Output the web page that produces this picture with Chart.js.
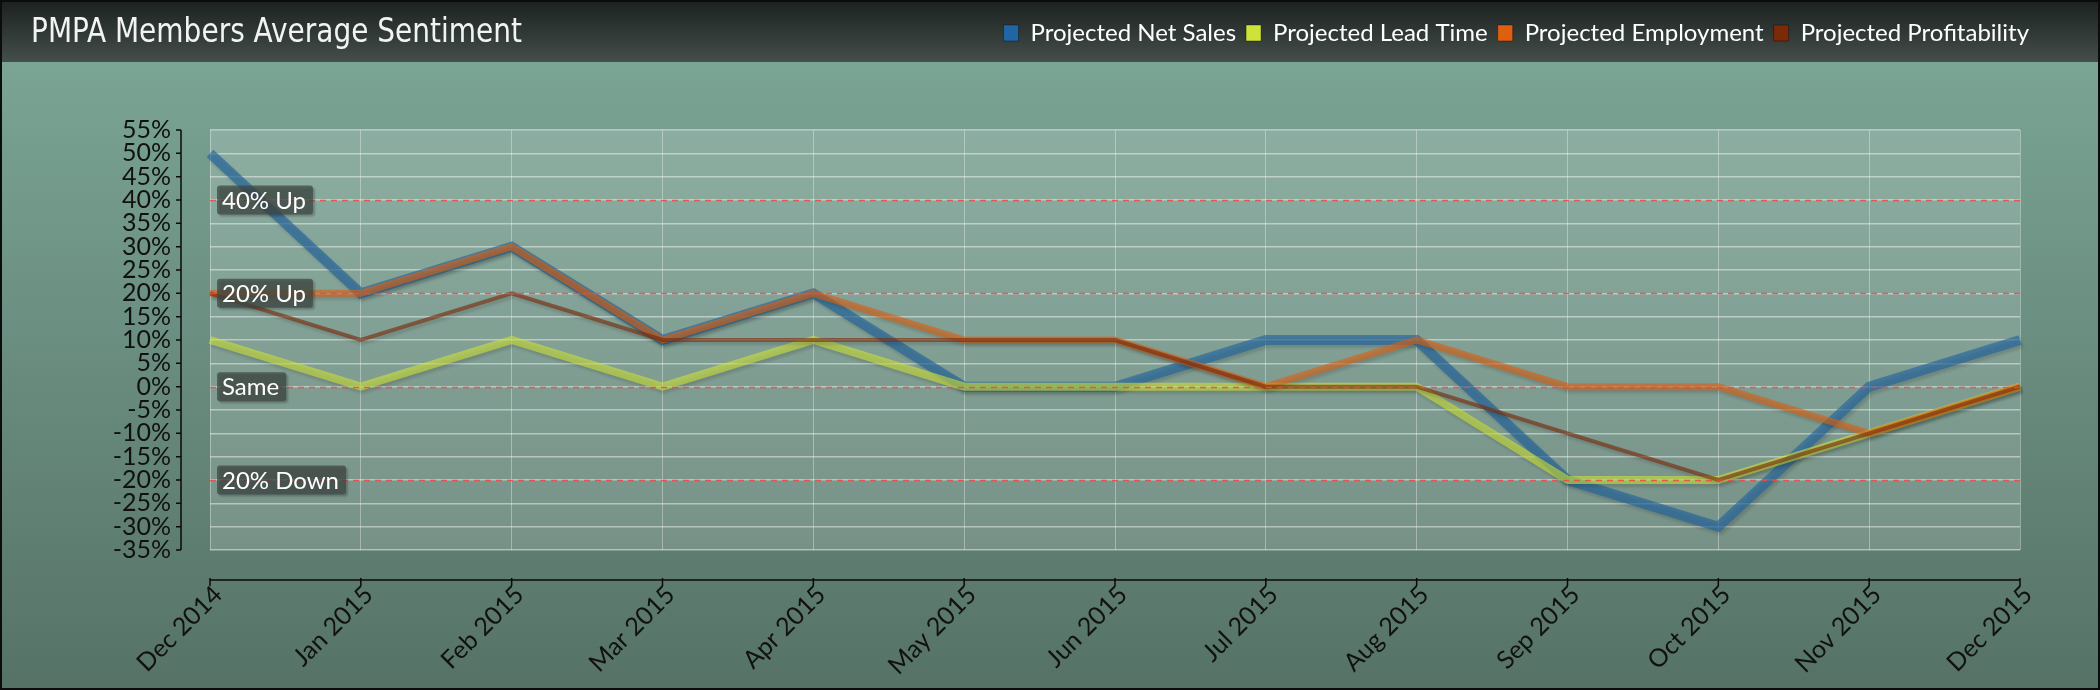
<!DOCTYPE html>
<html>
<head>
<meta charset="utf-8">
<script src="https://cdn.jsdelivr.net/npm/chart.js@4.4.1/dist/chart.umd.min.js"></script>
<style>
html,body{margin:0;padding:0;background:#000;}
#wrap{position:relative;width:2100px;height:690px;overflow:hidden;}
#title{position:absolute;left:31px;top:10px;font-family:"DejaVu Sans Condensed","DejaVu Sans",sans-serif;font-size:34px;line-height:40px;color:#f2f4f3;white-space:nowrap;transform-origin:0 0;}
canvas{display:block;}
</style>
</head>
<body>
<div id="wrap">
  <canvas id="c" width="2100" height="690"></canvas>
  <div id="title">PMPA Members Average Sentiment</div>
</div>
<script>
// ---- data ----
const categories = ['Dec 2014','Jan 2015','Feb 2015','Mar 2015','Apr 2015','May 2015','Jun 2015','Jul 2015','Aug 2015','Sep 2015','Oct 2015','Nov 2015','Dec 2015'];
const netSales      = [50, 20, 30, 10, 20, 0, 0, 10, 10, -20, -30, 0, 10];
const leadTime      = [10, 0, 10, 0, 10, 0, 0, 0, 0, -20, -20, -10, 0];
const employment    = [20, 20, 30, 10, 20, 10, 10, 0, 10, 0, 0, -10, 0];
const profitability = [20, 10, 20, 10, 10, 10, 10, 0, 0, -10, -20, -10, 0];
const seriesNames = ['Projected Net Sales','Projected Lead Time','Projected Employment','Projected Profitability'];
const yMin = -35, yMax = 55, yStep = 5;
const refLevels = [40, 20, 0, -20];
const refLabels = ['40% Up', '20% Up', 'Same', '20% Down'];

// ---- styles ----
const solidColors = ['#2166a3', '#cde33a', '#de5f0f', '#7b2908'];
const lineColors  = ['rgba(33,100,160,0.64)', 'rgba(205,227,58,0.6)', 'rgba(222,95,15,0.6)', 'rgba(123,41,8,0.62)'];
const lineWidths  = [10, 8, 7, 4];
const drawOrder   = [4, 3, 2, 1];

const LAYOUT_TOP = 11;
const PLOT_TOP = 130;

const bgPlugin = {
  id: 'bg',
  beforeDraw(chart) {
    const {ctx, width, height, chartArea: a} = chart;
    ctx.save();
    let g = ctx.createLinearGradient(0, 0, 0, 62);
    g.addColorStop(0, '#1b211f');
    g.addColorStop(1, '#444e4a');
    ctx.fillStyle = g;
    ctx.fillRect(0, 0, width, 62);
    g = ctx.createLinearGradient(0, 62, 0, height);
    g.addColorStop(0, '#7aa494');
    g.addColorStop(0.5, '#688b7e');
    g.addColorStop(1, '#567266');
    ctx.fillStyle = g;
    ctx.fillRect(0, 62, width, height - 62);
    ctx.fillStyle = 'rgba(255,255,255,0.16)';
    ctx.fillRect(a.left, a.top, a.right - a.left, a.bottom - a.top);
    ctx.restore();
  },
  beforeDatasetDraw(chart) {
    const ctx = chart.ctx;
    ctx.save();
    ctx.shadowColor = 'rgba(0,0,0,0.22)';
    ctx.shadowOffsetX = 2;
    ctx.shadowOffsetY = 3;
    ctx.shadowBlur = 3;
  },
  afterDatasetDraw(chart) {
    chart.ctx.restore();
  },
  afterDatasetsDraw(chart) {
    const {ctx, chartArea: a} = chart;
    const ys = chart.scales.y, xs = chart.scales.x;
    ctx.save();
    // dashed reference lines
    ctx.setLineDash([6, 5]);
    ctx.strokeStyle = 'rgba(236,70,70,0.85)';
    ctx.lineWidth = 1.5;
    refLevels.forEach(v => {
      const py = Math.round(ys.getPixelForValue(v)) + 0.5;
      ctx.beginPath();
      ctx.moveTo(a.left, py);
      ctx.lineTo(a.right, py);
      ctx.stroke();
    });
    ctx.setLineDash([]);
    // reference labels
    ctx.font = '24px Lato';
    ctx.textBaseline = 'middle';
    ctx.textAlign = 'left';
    refLevels.forEach((v, i) => {
      const py = ys.getPixelForValue(v);
      const tw = ctx.measureText(refLabels[i]).width;
      const bx = a.left + 7, bw = tw + 12, bh = 29, by = py - bh / 2;
      ctx.save();
      ctx.shadowColor = 'rgba(0,0,0,0.3)';
      ctx.shadowOffsetX = 2;
      ctx.shadowOffsetY = 2;
      ctx.shadowBlur = 2;
      ctx.fillStyle = 'rgba(62,70,66,0.72)';
      ctx.beginPath();
      ctx.roundRect(bx, by, bw, bh, 3);
      ctx.fill();
      ctx.restore();
      ctx.fillStyle = '#ffffff';
      ctx.fillText(refLabels[i], bx + 5, py + 1);
    });
    // offset axis lines
    ctx.strokeStyle = '#0a0a0a';
    ctx.lineWidth = 1.5;
    const axX = a.left - 29;
    const yTop = ys.getPixelForValue(yMax), yBot = ys.getPixelForValue(yMin);
    ctx.beginPath();
    ctx.moveTo(axX, yTop);
    ctx.lineTo(axX, yBot);
    ys.ticks.forEach(t => {
      const py = ys.getPixelForValue(t.value);
      ctx.moveTo(axX, py);
      ctx.lineTo(axX - 5, py);
    });
    ctx.stroke();
    const axY = a.bottom + 30;
    ctx.beginPath();
    ctx.moveTo(xs.getPixelForValue(0), axY);
    ctx.lineTo(xs.getPixelForValue(categories.length - 1), axY);
    categories.forEach((c, i) => {
      const px = xs.getPixelForValue(i);
      ctx.moveTo(px, axY - 2);
      ctx.lineTo(px, axY + 6);
    });
    ctx.stroke();
    ctx.restore();
  },
  afterDraw(chart) {
    const {ctx, width, height} = chart;
    ctx.save();
    ctx.strokeStyle = '#0c0c0c';
    ctx.lineWidth = 2;
    ctx.strokeRect(1, 1, width - 2, height - 2);
    ctx.restore();
  }
};

function build() {
  const t = document.getElementById('title');
  const w = t.getBoundingClientRect().width;
  t.style.transform = 'scaleX(' + (491 / w) + ')';

  Chart.defaults.font.family = 'Lato';
  const seriesData = [netSales, leadTime, employment, profitability];
  const datasets = seriesData.map((d, i) => ({
    label: seriesNames[i],
    data: d,
    borderColor: lineColors[i],
    backgroundColor: solidColors[i],
    borderWidth: lineWidths[i],
    borderJoinStyle: 'miter',
    pointRadius: 0,
    pointHoverRadius: 0,
    tension: 0,
    fill: false,
    order: drawOrder[i],
    xAxisID: 'x',
    yAxisID: 'y'
  }));

  new Chart(document.getElementById('c'), {
    type: 'line',
    data: { labels: categories, datasets },
    plugins: [bgPlugin],
    options: {
      responsive: false,
      animation: false,
      devicePixelRatio: 1,
      events: [],
      layout: { padding: { top: LAYOUT_TOP, right: 61, bottom: 0, left: 0 } },
      plugins: {
        title: { display: false },
        tooltip: { enabled: false },
        legend: {
          display: true,
          position: 'top',
          align: 'end',
          labels: {
            color: '#ffffff',
            font: { size: 24, family: 'Lato' },
            boxWidth: 15,
            boxHeight: 16,
            padding: 10,
            sort: (a, b) => a.datasetIndex - b.datasetIndex,
            generateLabels(chart) {
              const items = Chart.defaults.plugins.legend.labels.generateLabels(chart);
              return items.map(it => Object.assign(it, {
                fillStyle: solidColors[it.datasetIndex],
                strokeStyle: 'rgba(0,0,0,0.35)',
                lineWidth: 1,
                fontColor: '#ffffff'
              }));
            }
          }
        }
      },
      scales: {
        x: {
          type: 'category',
          position: 'bottom',
          offset: false,
          grid: { color: 'rgba(255,255,255,0.34)', lineWidth: 1, drawTicks: false },
          border: { display: false },
          ticks: { color: '#111111', font: { size: 25 }, padding: 30, labelOffset: 8, minRotation: 45, maxRotation: 45, autoSkip: false },
          afterFit(s) { s.height = 140; }
        },
        y: {
          type: 'linear',
          position: 'left',
          min: yMin,
          max: yMax,
          grid: { color: 'rgba(255,255,255,0.45)', lineWidth: 1.5, drawTicks: false },
          border: { display: false },
          ticks: { stepSize: yStep, autoSkip: false, color: '#111111', font: { size: 25 }, padding: 39, callback: v => v + '%' },
          afterFit(s) { s.width = 210; }
        },
        xTop: {
          type: 'linear',
          position: 'top',
          min: 0, max: 1,
          display: true,
          grid: { display: false },
          border: { display: false },
          ticks: { display: false },
          afterFit(s) {
            const lh = (s.chart.legend && s.chart.legend.height) || 45;
            s.height = Math.max(0, PLOT_TOP - LAYOUT_TOP - lh);
          }
        },
        yRight: {
          type: 'linear',
          position: 'right',
          min: 0, max: 1,
          display: true,
          grid: { display: false },
          border: { display: false },
          ticks: { display: false },
          afterFit(s) { s.width = 19; }
        }
      }
    }
  });
}

Promise.all([
  document.fonts.load('24px Lato'),
  document.fonts.load('34px "DejaVu Sans Condensed"')
]).catch(() => {}).then(build);
</script>
</body>
</html>
